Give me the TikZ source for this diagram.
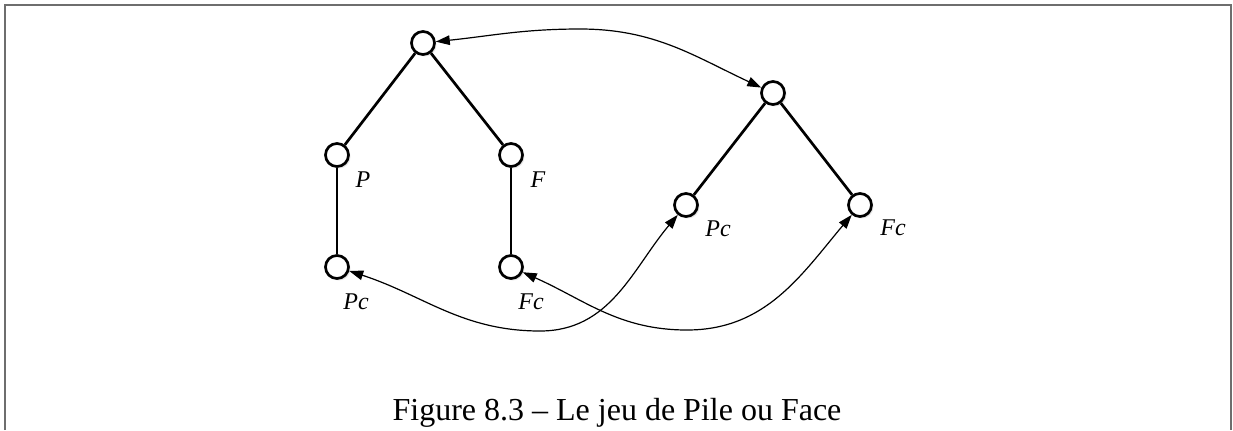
\documentclass[tikz,border=0pt]{standalone}
\usepackage{fontspec}
\setmainfont{Liberation Serif}
\usepackage{tikz}
\usetikzlibrary{arrows.meta,shadows}
\definecolor{ink}{HTML}{000000}
\definecolor{framec}{HTML}{6E6E6E}
\tikzset{
  etat/.style={circle, draw=ink, fill=white, line width=1.35pt, inner sep=0pt,
               minimum size=11.5pt,
               circular drop shadow={shadow xshift=0.8pt, shadow yshift=-0.8pt, shadow scale=1.05, opacity=0.25}},
  arete/.style={line width=1.35pt, draw=ink},
  lien/.style={{Triangle[length=7pt, width=4.8pt]}-{Triangle[length=7pt, width=4.8pt]}, line width=0.6pt, draw=ink},
  nom/.style={font=\fontsize{12}{14}\selectfont\itshape, inner sep=0pt},
}

\begin{document}
\begin{tikzpicture}[x=0.5pt, y=0.5pt]
  \useasboundingbox (0,0) rectangle (1233,-430);
  % cadre ouvert en bas
  \draw[framec, line width=1pt] (5,-430) -- (5,-5) -- (1231,-5) -- (1231,-430);

  % premier arbre
  \node[etat] (r1) at (423,-43) {};
  \node[etat] (p1) at (337,-155) {};
  \node[etat] (f1) at (511,-155) {};
  \node[etat] (pc1) at (337,-267) {};
  \node[etat] (fc1) at (511,-267) {};
  \draw[arete] (r1) -- (p1);
  \draw[arete] (r1) -- (f1);
  \draw[arete] (p1) -- (pc1);
  \draw[arete] (f1) -- (fc1);
  \node[nom] (lp1) at (363,-180) {P};
  \node[nom] (lf1) at (538,-180) {F};
  \node[nom] (lpc1) at (356,-302) {Pc};
  \node[nom] (lfc1) at (531,-302) {Fc};

  % second arbre
  \node[etat] (r2) at (773,-93) {};
  \node[etat] (pc2) at (686,-205) {};
  \node[etat] (fc2) at (860,-205) {};
  \draw[arete] (r2) -- (pc2);
  \draw[arete] (r2) -- (fc2);
  \node[nom] (lpc2) at (718,-229) {Pc};
  \node[nom] (lfc2) at (893,-228) {Fc};

  % identifications
  \draw[lien] (r1) to[out=6, in=180] (580,-29) to[out=0, in=155] (r2);
  \draw[lien] (pc1) to[out=-18, in=180] (540,-331) to[out=0, in=-130] (pc2);
  \draw[lien] (fc1) to[out=-24, in=180] (687,-330) to[out=0, in=-130] (fc2);

  \node[font=\fontsize{16}{19}\selectfont, anchor=base] (titre) at (617,-420)
    {Figure 8.3 -- Le jeu de Pile ou Face};
\end{tikzpicture}
\end{document}
